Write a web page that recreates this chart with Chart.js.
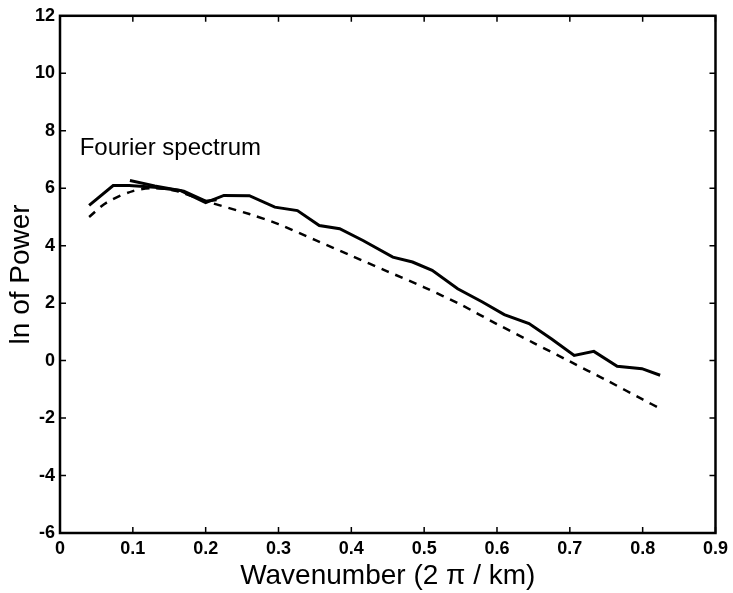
<!DOCTYPE html>
<html>
<head>
<meta charset="utf-8">
<script src="https://cdn.jsdelivr.net/npm/chart.js@4/dist/chart.umd.min.js"></script>
<style>
  html, body { margin: 0; padding: 0; background: #fff; }
  #box { width: 733px; height: 593px; }
</style>
</head>
<body>
<div id="box"><canvas id="grafico"></canvas></div>
<script>
// dados
const specX = [0.04, 0.073, 0.095, 0.13, 0.165, 0.2, 0.225, 0.26, 0.295, 0.326, 0.356, 0.384, 0.416, 0.457, 0.484, 0.511, 0.546, 0.58, 0.61, 0.644, 0.675, 0.706, 0.733, 0.765, 0.799, 0.824]
const specY = [5.4, 6.09, 6.09, 6.03, 5.92, 5.5, 5.75, 5.74, 5.34, 5.22, 4.7, 4.59, 4.18, 3.6, 3.43, 3.14, 2.5, 2.04, 1.6, 1.29, 0.75, 0.18, 0.32, -0.2, -0.28, -0.51]

const curtaX = [0.096, 0.13, 0.17, 0.2, 0.215]
const curtaY = [6.27, 6.08, 5.9, 5.55, 5.6]

const ajusteX = [0.04, 0.064, 0.1, 0.13, 0.16, 0.2, 0.26, 0.3, 0.35, 0.4, 0.45, 0.5, 0.55, 0.6, 0.65, 0.7, 0.75, 0.8, 0.824]
const ajusteY = [5.0, 5.5, 5.9, 6.0, 5.9, 5.55, 5.1, 4.75, 4.2, 3.65, 3.1, 2.55, 1.95, 1.27, 0.62, -0.03, -0.68, -1.35, -1.67]

const xTicks = ['0', '0.1', '0.2', '0.3', '0.4', '0.5', '0.6', '0.7', '0.8', '0.9']
const yTicks = ['-6', '-4', '-2', '0', '2', '4', '6', '8', '10', '12']

function pontos(xs, ys) {
  return xs.map((x, i) => ({ x: x, y: ys[i] }))
}

const fonte = "'Liberation Sans', Arial, sans-serif"

// moldura e ticks para dentro nos 4 lados
const moldura = {
  id: 'moldura',
  afterDraw(chart) {
    const ctx = chart.ctx
    const a = chart.chartArea
    const sx = chart.scales.x
    const sy = chart.scales.y
    ctx.save()
    ctx.strokeStyle = '#000'
    ctx.lineWidth = 1.5
    sx.ticks.forEach(t => {
      const p = sx.getPixelForValue(t.value)
      ctx.beginPath()
      ctx.moveTo(p, a.bottom); ctx.lineTo(p, a.bottom - 6)
      ctx.moveTo(p, a.top); ctx.lineTo(p, a.top + 6)
      ctx.stroke()
    })
    sy.ticks.forEach(t => {
      const p = sy.getPixelForValue(t.value)
      ctx.beginPath()
      ctx.moveTo(a.left, p); ctx.lineTo(a.left + 6, p)
      ctx.moveTo(a.right, p); ctx.lineTo(a.right - 6, p)
      ctx.stroke()
    })
    ctx.lineWidth = 2.5
    ctx.strokeRect(a.left, a.top, a.right - a.left, a.bottom - a.top)
    ctx.fillStyle = '#000'
    ctx.font = '24px ' + fonte
    ctx.textBaseline = 'middle'
    ctx.fillText('Fourier spectrum', sx.getPixelForValue(0.027), sy.getPixelForValue(7.38))
    ctx.restore()
  }
}

new Chart(document.getElementById('grafico'), {
  type: 'scatter',
  data: {
    datasets: [
      {
        label: 'espectro',
        data: pontos(specX, specY),
        showLine: true,
        borderColor: '#000',
        borderWidth: 3,
        pointRadius: 0,
        tension: 0
      },
      {
        label: 'curta',
        data: pontos(curtaX, curtaY),
        showLine: true,
        borderColor: '#000',
        borderWidth: 3,
        pointRadius: 0,
        tension: 0
      },
      {
        label: 'ajuste',
        data: pontos(ajusteX, ajusteY),
        showLine: true,
        borderColor: '#000',
        borderWidth: 2.5,
        borderDash: [8, 7],
        pointRadius: 0,
        tension: 0.3
      }
    ]
  },
  options: {
    responsive: true,
    maintainAspectRatio: false,
    animation: false,
    layout: {
      padding: { top: 15, right: 16, left: 0, bottom: 0 }
    },
    plugins: {
      legend: { display: false },
      tooltip: { enabled: false }
    },
    scales: {
      x: {
        type: 'linear',
        min: 0,
        max: 0.9,
        afterFit: s => { s.height = 60 },
        grid: { display: false, drawTicks: false },
        border: { display: false },
        ticks: {
          stepSize: 0.1,
          padding: 5,
          color: '#000',
          font: { family: fonte, size: 18, weight: 'bold' },
          maxRotation: 0,
          callback: (v, i) => xTicks[i]
        },
        title: {
          display: true,
          text: 'Wavenumber (2 π / km)',
          color: '#000',
          font: { family: fonte, size: 28 },
          padding: { top: 0, bottom: 0 }
        }
      },
      y: {
        min: -6,
        max: 12,
        afterFit: s => { s.width = 60 },
        grid: { display: false, drawTicks: false },
        border: { display: false },
        ticks: {
          stepSize: 2,
          padding: 5,
          color: '#000',
          font: { family: fonte, size: 18, weight: 'bold' },
          callback: (v, i) => yTicks[i]
        },
        title: {
          display: true,
          text: 'ln of Power',
          color: '#000',
          font: { family: fonte, size: 28 },
          padding: { top: 4, bottom: 0 }
        }
      }
    }
  },
  plugins: [moldura]
})
</script>
</body>
</html>
